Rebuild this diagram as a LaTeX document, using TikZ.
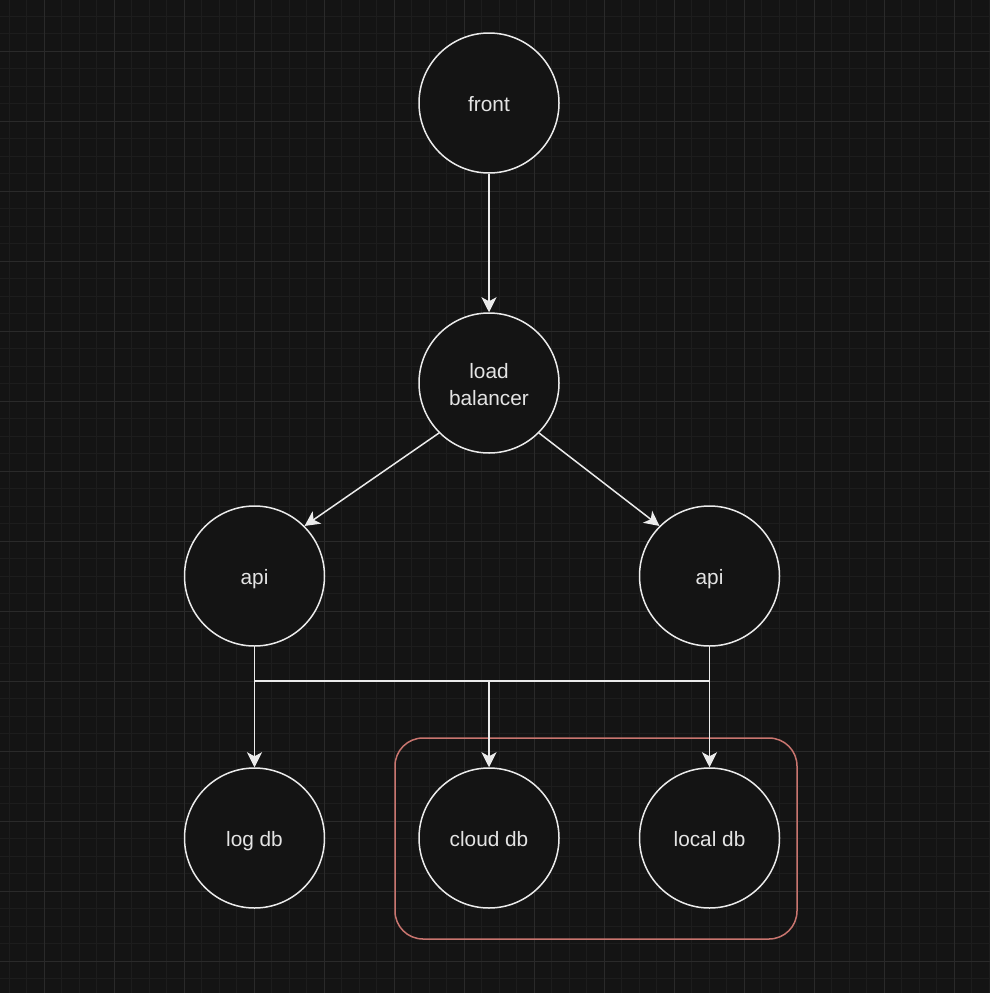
\documentclass[tikz,border=0pt]{standalone}
\usepackage{fontspec}
\setmainfont{Liberation Sans}
\usetikzlibrary{arrows.meta}

\definecolor{canvas}{HTML}{141414}
\definecolor{gridminor}{HTML}{1D1D1D}
\definecolor{gridmajor}{HTML}{2A2A2A}
\definecolor{ink}{HTML}{EBEBEB}
\definecolor{txt}{HTML}{E4E4E4}
\definecolor{groupline}{HTML}{C9756F}

\tikzset{
  svc/.style={circle, draw=ink, fill=canvas, line width=1.5pt,
    minimum size=140pt, inner sep=0pt, align=center, text=txt,
    font=\fontsize{20.8}{27}\selectfont},
  oneline/.style={text height=21pt, text depth=4pt},
  link/.style={draw=ink, line width=1.5pt},
  flow/.style={link, -{Stealth[length=15pt, width=15pt, inset=4pt]}},
  grouping/.style={draw=groupline, line width=1.5pt, rounded corners=28pt,
    minimum width=402pt, minimum height=201pt, inner sep=0pt},
}
% two-line label, lowered slightly without changing its box
\newcommand{\twolines}[2]{\raisebox{-4pt}[\height][\depth]{\begin{tabular}{@{}c@{}}#1\\#2\end{tabular}}}

\begin{document}
\begin{tikzpicture}[x=1pt, y=-1pt]
  % canvas and grid
  \fill[canvas] (0,0) rectangle (990,993);
  \useasboundingbox (0,0) rectangle (990,993);
  \foreach \gx in {9,26.5,...,990} \draw[gridminor, line width=1pt] (\gx,0) -- (\gx,993);
  \foreach \gy in {16,33.5,...,993} \draw[gridminor, line width=1pt] (0,\gy) -- (990,\gy);
  \foreach \gx in {44,114,...,990} \draw[gridmajor, line width=1pt] (\gx,0) -- (\gx,993);
  \foreach \gy in {51,121,...,993} \draw[gridmajor, line width=1pt] (0,\gy) -- (990,\gy);

  % database group frame
  \node[grouping] (dbgroup) at (596,838.5) {};

  % services
  \node[svc, oneline] (front) at (489,103) {front};
  \node[svc]          (lb)    at (489,383) {\twolines{load}{balancer}};
  \node[svc, oneline] (apiL)  at (254.5,576) {api};
  \node[svc, oneline] (apiR)  at (709.5,576) {api};
  \node[svc, oneline] (logdb) at (254.5,838) {log db};
  \node[svc, oneline] (cloud) at (489,838) {cloud db};
  \node[svc, oneline] (local) at (709.5,838) {local db};

  % request flow
  \draw[flow] (front) -- (lb);
  \draw[flow] (lb.-135) -- (apiL.45);
  \draw[flow] (lb.-45) -- (apiR.135);

  % shared bus from both apis to the databases
  \coordinate (bus) at (489,681);
  \draw[link] (apiL.south |- bus) -- (apiR.south |- bus);
  \draw[flow] (apiL.south) -- (logdb.north);
  \draw[flow] (bus) -- (cloud.north);
  \draw[flow] (apiR.south) -- (local.north);
\end{tikzpicture}
\end{document}
